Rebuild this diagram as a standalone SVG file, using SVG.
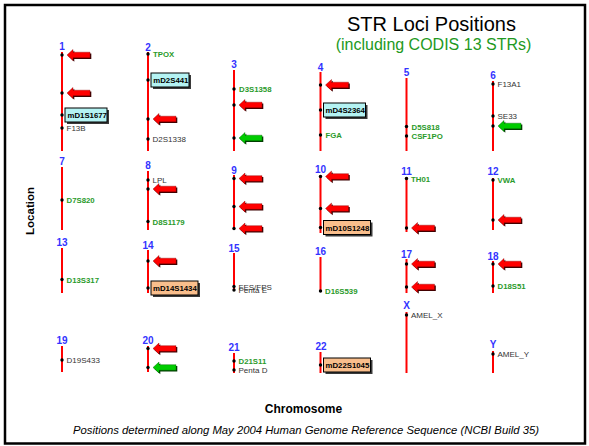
<svg xmlns="http://www.w3.org/2000/svg" width="589" height="446" viewBox="0 0 589 446">
<style>
.chr{stroke:#ff0000;stroke-width:2;fill:none}
.num{font-family:"Liberation Sans",Arial,sans-serif;font-weight:bold;font-size:10px;fill:#3333ff;text-anchor:middle}
.codis{font-family:"Liberation Sans",Arial,sans-serif;font-weight:bold;font-size:7.8px;fill:#2a9a2a}
.other{font-family:"Liberation Sans",Arial,sans-serif;font-size:8px;fill:#333333}
.bt{font-family:"Liberation Sans",Arial,sans-serif;font-weight:bold;font-size:7.8px;fill:#000}
.dot{fill:#000}
.cyan{fill:#b4f3f3;stroke:#000;stroke-width:1}
.orange{fill:#f9be8c;stroke:#000;stroke-width:1}
.shadow{fill:#3a3a3a}
</style>
<defs>
<polygon id="arrShape" points="5,0 11,-5.5 11,-2.8 28,-2.8 28,2.8 11,2.8 11,5.5"/>
<g id="arrR"><use href="#arrShape" transform="translate(1.3,1.3)" fill="#3a0000"/><use href="#arrShape" fill="#ff0000" stroke="#8a0000" stroke-width="0.4"/></g>
<g id="arrG"><use href="#arrShape" transform="translate(1.3,1.3)" fill="#003a00"/><use href="#arrShape" fill="#00cc00" stroke="#006000" stroke-width="0.4"/></g>
</defs>
<rect x="0" y="0" width="589" height="446" fill="#fff"/>
<rect x="5" y="5" width="580" height="438.5" fill="none" stroke="#000" stroke-width="2.5"/>
<text x="431.5" y="31" font-family="Liberation Sans,Arial,sans-serif" font-size="20" text-anchor="middle" fill="#000">STR Loci Positions</text>
<text x="433.5" y="50" font-family="Liberation Sans,Arial,sans-serif" font-size="16" text-anchor="middle" fill="#229922">(including CODIS 13 STRs)</text>
<text transform="translate(34,211) rotate(-90)" font-family="Liberation Sans,Arial,sans-serif" font-weight="bold" font-size="11.5" text-anchor="middle" fill="#000">Location</text>
<text x="303.5" y="413" font-family="Liberation Sans,Arial,sans-serif" font-weight="bold" font-size="12" text-anchor="middle" fill="#000">Chromosome</text>
<text x="306" y="434" font-family="Liberation Sans,Arial,sans-serif" font-style="italic" font-size="11.3" text-anchor="middle" fill="#000">Positions determined along May 2004 Human Genome Reference Sequence (NCBI Build 35)</text>

<g id="chr1">
<text class="num" x="62" y="50">1</text>
<line class="chr" x1="62" y1="52" x2="62" y2="151"/>
<use href="#arrR" x="62" y="55"/>
<use href="#arrR" x="62" y="93"/>
<rect class="shadow" x="67" y="110" width="42" height="14"/>
<rect class="cyan" x="65" y="108" width="42" height="14"/>
<text class="bt" x="67.5" y="118">mD1S1677</text>
<text class="other" x="66.5" y="131">F13B</text>
<circle class="dot" cx="62" cy="55" r="1.7"/><circle class="dot" cx="62" cy="93" r="1.7"/><circle class="dot" cx="62" cy="115" r="1.7"/><circle class="dot" cx="62" cy="128" r="1.7"/>
</g>

<g id="chr2">
<text class="num" x="148" y="51">2</text>
<line class="chr" x1="148" y1="52" x2="148" y2="151"/>
<text class="codis" x="153" y="57">TPOX</text>
<rect class="shadow" x="153" y="75" width="38" height="14"/>
<rect class="cyan" x="151" y="73" width="38" height="14"/>
<text class="bt" x="153.3" y="83">mD2S441</text>
<use href="#arrR" x="148" y="119"/>
<text class="other" x="152.5" y="142">D2S1338</text>
<circle class="dot" cx="148" cy="54" r="1.7"/><circle class="dot" cx="148" cy="80" r="1.7"/><circle class="dot" cx="148" cy="119" r="1.7"/><circle class="dot" cx="148" cy="139" r="1.7"/>
</g>

<g id="chr3">
<text class="num" x="234" y="68">3</text>
<line class="chr" x1="234" y1="70" x2="234" y2="151"/>
<text class="codis" x="239" y="92">D3S1358</text>
<use href="#arrR" x="234" y="105"/>
<use href="#arrG" x="234" y="138"/>
<circle class="dot" cx="234" cy="89" r="1.7"/><circle class="dot" cx="234" cy="105" r="1.7"/><circle class="dot" cx="234" cy="138" r="1.7"/>
</g>

<g id="chr4">
<text class="num" x="320.5" y="71">4</text>
<line class="chr" x1="320.5" y1="72" x2="320.5" y2="151"/>
<use href="#arrR" x="320.5" y="85"/>
<rect class="shadow" x="325.5" y="105" width="42" height="14"/>
<rect class="cyan" x="323.5" y="103" width="42" height="14"/>
<text class="bt" x="325.5" y="113">mD4S2364</text>
<text class="codis" x="325.5" y="138">FGA</text>
<circle class="dot" cx="320.5" cy="85" r="1.7"/><circle class="dot" cx="320.5" cy="110" r="1.7"/><circle class="dot" cx="320.5" cy="135" r="1.7"/>
</g>

<g id="chr5">
<text class="num" x="406.5" y="76">5</text>
<line class="chr" x1="406.5" y1="78" x2="406.5" y2="151"/>
<text class="codis" x="411.5" y="129.5">D5S818</text>
<text class="codis" x="411.5" y="139">CSF1PO</text>
<circle class="dot" cx="406.5" cy="126.5" r="1.7"/><circle class="dot" cx="406.5" cy="136" r="1.7"/>
</g>

<g id="chr6">
<text class="num" x="493" y="79">6</text>
<line class="chr" x1="493" y1="81" x2="493" y2="151"/>
<text class="other" x="497.5" y="87">F13A1</text>
<text class="other" x="497.5" y="119">SE33</text>
<use href="#arrG" x="493" y="126"/>
<circle class="dot" cx="493" cy="84" r="1.7"/><circle class="dot" cx="493" cy="116" r="1.7"/><circle class="dot" cx="493" cy="126" r="1.7"/>
</g>

<g id="chr7">
<text class="num" x="62" y="165">7</text>
<line class="chr" x1="62" y1="167" x2="62" y2="230"/>
<text class="codis" x="66.5" y="203">D7S820</text>
<circle class="dot" cx="62" cy="200" r="1.7"/>
</g>

<g id="chr8">
<text class="num" x="148" y="169">8</text>
<line class="chr" x1="148" y1="171" x2="148" y2="230"/>
<text class="other" x="152.5" y="183">LPL</text>
<use href="#arrR" x="148" y="189"/>
<text class="codis" x="152.5" y="224.5">D8S1179</text>
<circle class="dot" cx="148" cy="180" r="1.7"/><circle class="dot" cx="148" cy="189" r="1.7"/><circle class="dot" cx="148" cy="221.5" r="1.7"/>
</g>

<g id="chr9">
<text class="num" x="234" y="174">9</text>
<line class="chr" x1="234" y1="175" x2="234" y2="230"/>
<use href="#arrR" x="234" y="178.5"/>
<use href="#arrR" x="234" y="206.5"/>
<use href="#arrR" x="234" y="228.5"/>
<circle class="dot" cx="234" cy="178.5" r="1.7"/><circle class="dot" cx="234" cy="206.5" r="1.7"/><circle class="dot" cx="234" cy="228.5" r="1.7"/>
</g>

<g id="chr10">
<text class="num" x="320.5" y="173">10</text>
<line class="chr" x1="320.5" y1="175" x2="320.5" y2="233"/>
<use href="#arrR" x="320.5" y="176.5"/>
<use href="#arrR" x="320.5" y="208.5"/>
<rect class="shadow" x="325.5" y="222.5" width="47" height="14"/>
<rect class="orange" x="323.5" y="220.5" width="47" height="14"/>
<text class="bt" x="325.5" y="230.5">mD10S1248</text>
<circle class="dot" cx="320.5" cy="176.5" r="1.7"/><circle class="dot" cx="320.5" cy="208.5" r="1.7"/><circle class="dot" cx="320.5" cy="227.5" r="1.7"/>
</g>

<g id="chr11">
<text class="num" x="406.5" y="175">11</text>
<line class="chr" x1="406.5" y1="177" x2="406.5" y2="232"/>
<text class="codis" x="411" y="181.5">TH01</text>
<use href="#arrR" x="406.5" y="228"/>
<circle class="dot" cx="406.5" cy="178.5" r="1.7"/><circle class="dot" cx="406.5" cy="228" r="1.7"/>
</g>

<g id="chr12">
<text class="num" x="493" y="175">12</text>
<line class="chr" x1="493" y1="178" x2="493" y2="230"/>
<text class="codis" x="497.5" y="183">VWA</text>
<use href="#arrR" x="493" y="220"/>
<circle class="dot" cx="493" cy="180" r="1.7"/><circle class="dot" cx="493" cy="220" r="1.7"/>
</g>

<g id="chr13">
<text class="num" x="62" y="246">13</text>
<line class="chr" x1="62" y1="248" x2="62" y2="293"/>
<text class="codis" x="66.5" y="282.5">D13S317</text>
<circle class="dot" cx="62" cy="279.5" r="1.7"/>
</g>

<g id="chr14">
<text class="num" x="148" y="249">14</text>
<line class="chr" x1="148" y1="250" x2="148" y2="293"/>
<use href="#arrR" x="148" y="261"/>
<rect class="shadow" x="153" y="283" width="47" height="14"/>
<rect class="orange" x="151" y="281" width="47" height="14"/>
<text class="bt" x="153" y="291">mD14S1434</text>
<circle class="dot" cx="148" cy="261" r="1.7"/><circle class="dot" cx="148" cy="288" r="1.7"/>
</g>

<g id="chr15">
<text class="num" x="234" y="252">15</text>
<line class="chr" x1="234" y1="253" x2="234" y2="289"/>
<text class="other" x="238.5" y="289.5">FES/FPS</text>
<text class="other" x="238.5" y="293">Penta E</text>
<circle class="dot" cx="234" cy="286.5" r="1.7"/><circle class="dot" cx="234" cy="290" r="1.7"/>
</g>

<g id="chr16">
<text class="num" x="320.5" y="255">16</text>
<line class="chr" x1="320.5" y1="257" x2="320.5" y2="292"/>
<text class="codis" x="325" y="294">D16S539</text>
<circle class="dot" cx="320.5" cy="291" r="1.7"/>
</g>

<g id="chr17">
<text class="num" x="406.5" y="258">17</text>
<line class="chr" x1="406.5" y1="259" x2="406.5" y2="293"/>
<use href="#arrR" x="406.5" y="264"/>
<use href="#arrR" x="406.5" y="287"/>
<circle class="dot" cx="406.5" cy="264" r="1.7"/><circle class="dot" cx="406.5" cy="287" r="1.7"/>
</g>

<g id="chr18">
<text class="num" x="493" y="260">18</text>
<line class="chr" x1="493" y1="261" x2="493" y2="293"/>
<use href="#arrR" x="493" y="264"/>
<text class="codis" x="497.5" y="289">D18S51</text>
<circle class="dot" cx="493" cy="264" r="1.7"/><circle class="dot" cx="493" cy="286" r="1.7"/>
</g>

<g id="chr19">
<text class="num" x="62" y="344">19</text>
<line class="chr" x1="62" y1="346" x2="62" y2="372"/>
<text class="other" x="66.5" y="363">D19S433</text>
<circle class="dot" cx="62" cy="360" r="1.7"/>
</g>

<g id="chr20">
<text class="num" x="148" y="344">20</text>
<line class="chr" x1="148" y1="346" x2="148" y2="372"/>
<use href="#arrR" x="148" y="348.5"/>
<use href="#arrG" x="148" y="367.5"/>
<circle class="dot" cx="148" cy="348.5" r="1.7"/><circle class="dot" cx="148" cy="367.5" r="1.7"/>
</g>

<g id="chr21">
<text class="num" x="234" y="351">21</text>
<line class="chr" x1="234" y1="353" x2="234" y2="373"/>
<text class="codis" x="238.5" y="364">D21S11</text>
<text class="other" x="238.5" y="373">Penta D</text>
<circle class="dot" cx="234" cy="361" r="1.7"/><circle class="dot" cx="234" cy="370" r="1.7"/>
</g>

<g id="chr22">
<text class="num" x="321" y="350">22</text>
<line class="chr" x1="320.5" y1="352" x2="320.5" y2="373"/>
<rect class="shadow" x="325.5" y="360" width="47" height="14"/>
<rect class="orange" x="323.5" y="358" width="47" height="14"/>
<text class="bt" x="325.5" y="368">mD22S1045</text>
<circle class="dot" cx="320.5" cy="365" r="1.7"/>
</g>

<g id="chrX">
<text class="num" x="406.5" y="309">X</text>
<line class="chr" x1="406.5" y1="312" x2="406.5" y2="373"/>
<text class="other" x="411" y="318">AMEL_X</text>
<circle class="dot" cx="406.5" cy="315" r="1.7"/>
</g>

<g id="chrY">
<text class="num" x="493" y="348">Y</text>
<line class="chr" x1="493" y1="351" x2="493" y2="373"/>
<text class="other" x="497.5" y="357">AMEL_Y</text>
<circle class="dot" cx="493" cy="354" r="1.7"/>
</g>
</svg>
